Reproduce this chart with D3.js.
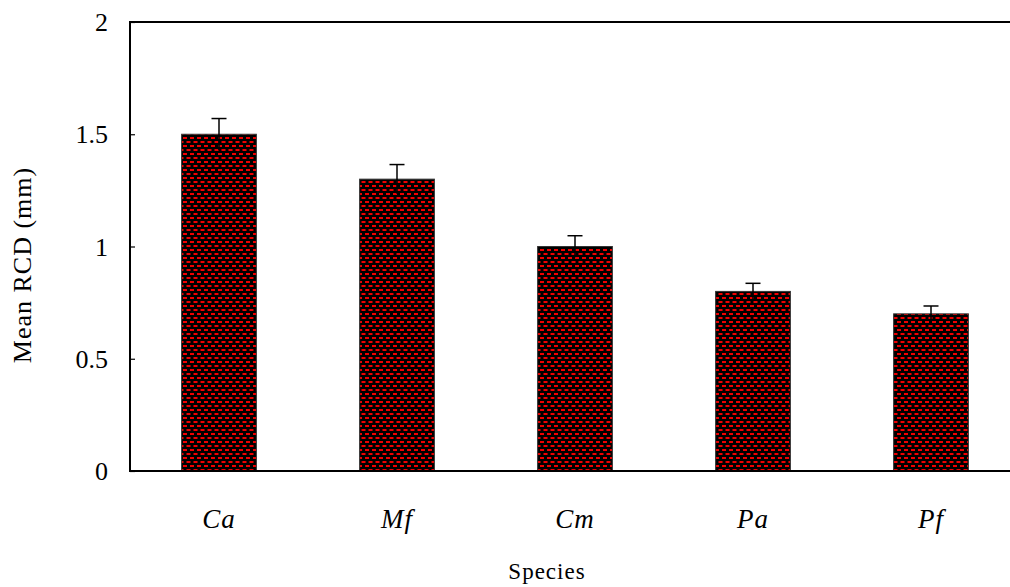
<!DOCTYPE html>
<html>
<head>
<meta charset="utf-8">
<script src="https://cdn.jsdelivr.net/npm/d3@7"></script>
<style>
  body { margin: 0; background: #fff; }
  svg text { font-family: "Liberation Serif", "Times New Roman", serif; fill: #000; }
</style>
</head>
<body>
<svg></svg>
<script>
// data
const species = ["Ca", "Mf", "Cm", "Pa", "Pf"];
const meanRCD = [1.5, 1.3, 1.0, 0.8, 0.7];
const errRCD = [0.07, 0.065, 0.048, 0.036, 0.035];
const yTicks = [0, 0.5, 1, 1.5, 2];

const width = 1010;
const height = 587;
const plotL = 130, plotT = 22, plotR = 1020, plotB = 471;

let svg = d3.select("svg")
  .attr("width", width)
  .attr("height", height);

// brick-like red dot pattern on black
let pat = svg.append("defs").append("pattern")
  .attr("id", "dots")
  .attr("patternUnits", "userSpaceOnUse")
  .attr("width", 7)
  .attr("height", 8);
pat.append("rect").attr("width", 7).attr("height", 8).attr("fill", "#000");
pat.append("rect").attr("x", 1).attr("y", 1).attr("width", 4).attr("height", 2).attr("fill", "#f00000");
pat.append("rect").attr("x", 4.5).attr("y", 5).attr("width", 4).attr("height", 2).attr("fill", "#f00000");
pat.append("rect").attr("x", -2.5).attr("y", 5).attr("width", 4).attr("height", 2).attr("fill", "#f00000");

let x = d3.scaleBand()
  .domain(species)
  .range([plotL, plotR])
  .paddingInner(0.58)
  .paddingOuter(0.29);

let y = d3.scaleLinear()
  .domain([0, 2])
  .range([plotB, plotT]);

// bars
svg.selectAll(".bar")
  .data(species)
  .enter().append("rect")
  .attr("class", "bar")
  .attr("x", d => x(d))
  .attr("width", x.bandwidth())
  .attr("y", (d, i) => y(meanRCD[i]))
  .attr("height", (d, i) => y(0) - y(meanRCD[i]))
  .attr("fill", "url(#dots)")
  .attr("stroke", "#333")
  .attr("stroke-width", 1);

// error bars
let eb = svg.selectAll(".err")
  .data(species)
  .enter().append("g")
  .attr("class", "err");
eb.append("line")
  .attr("x1", d => x(d) + x.bandwidth() / 2)
  .attr("x2", d => x(d) + x.bandwidth() / 2)
  .attr("y1", (d, i) => y(meanRCD[i] - errRCD[i]))
  .attr("y2", (d, i) => y(meanRCD[i] + errRCD[i]))
  .attr("stroke", "#000")
  .attr("stroke-width", 1.5);
eb.append("line")
  .attr("x1", d => x(d) + x.bandwidth() / 2 - 7.5)
  .attr("x2", d => x(d) + x.bandwidth() / 2 + 7.5)
  .attr("y1", (d, i) => y(meanRCD[i] + errRCD[i]))
  .attr("y2", (d, i) => y(meanRCD[i] + errRCD[i]))
  .attr("stroke", "#000")
  .attr("stroke-width", 1.5);

// y axis, ticks pointing inward
let axisY = d3.axisLeft(y)
  .tickValues(yTicks)
  .tickFormat(d3.format("~g"))
  .tickSizeInner(-5)
  .tickSizeOuter(0)
  .tickPadding(22);
let gy = svg.append("g")
  .attr("transform", `translate(${plotL},0)`)
  .call(axisY);
gy.select(".domain").remove();
gy.selectAll("line").attr("stroke", "#000").attr("stroke-width", 1.2);
gy.selectAll("text")
  .style("font-size", "26px")
  .attr("dy", "0.33em");

// x axis labels
let axisX = d3.axisBottom(x).tickSize(0).tickPadding(0);
let gx = svg.append("g")
  .attr("transform", `translate(0,${plotB})`)
  .call(axisX);
gx.select(".domain").remove();
gx.selectAll("text")
  .attr("y", 57)
  .attr("dy", 0)
  .style("font-size", "27px")
  .style("font-style", "italic")
  .style("letter-spacing", "1px");

// frame
svg.append("path")
  .attr("d", `M${plotR},${plotT}H${plotL}V${plotB}H${plotR}`)
  .attr("fill", "none")
  .attr("stroke", "#000")
  .attr("stroke-width", 2);

// titles
svg.append("text")
  .attr("x", 547)
  .attr("y", 579)
  .attr("text-anchor", "middle")
  .style("font-size", "23px")
  .style("letter-spacing", "1px")
  .text("Species");

svg.append("text")
  .attr("transform", "translate(31,265) rotate(-90)")
  .attr("text-anchor", "middle")
  .style("font-size", "26px")
  .style("letter-spacing", "1px")
  .text("Mean RCD (mm)");
</script>
</body>
</html>
